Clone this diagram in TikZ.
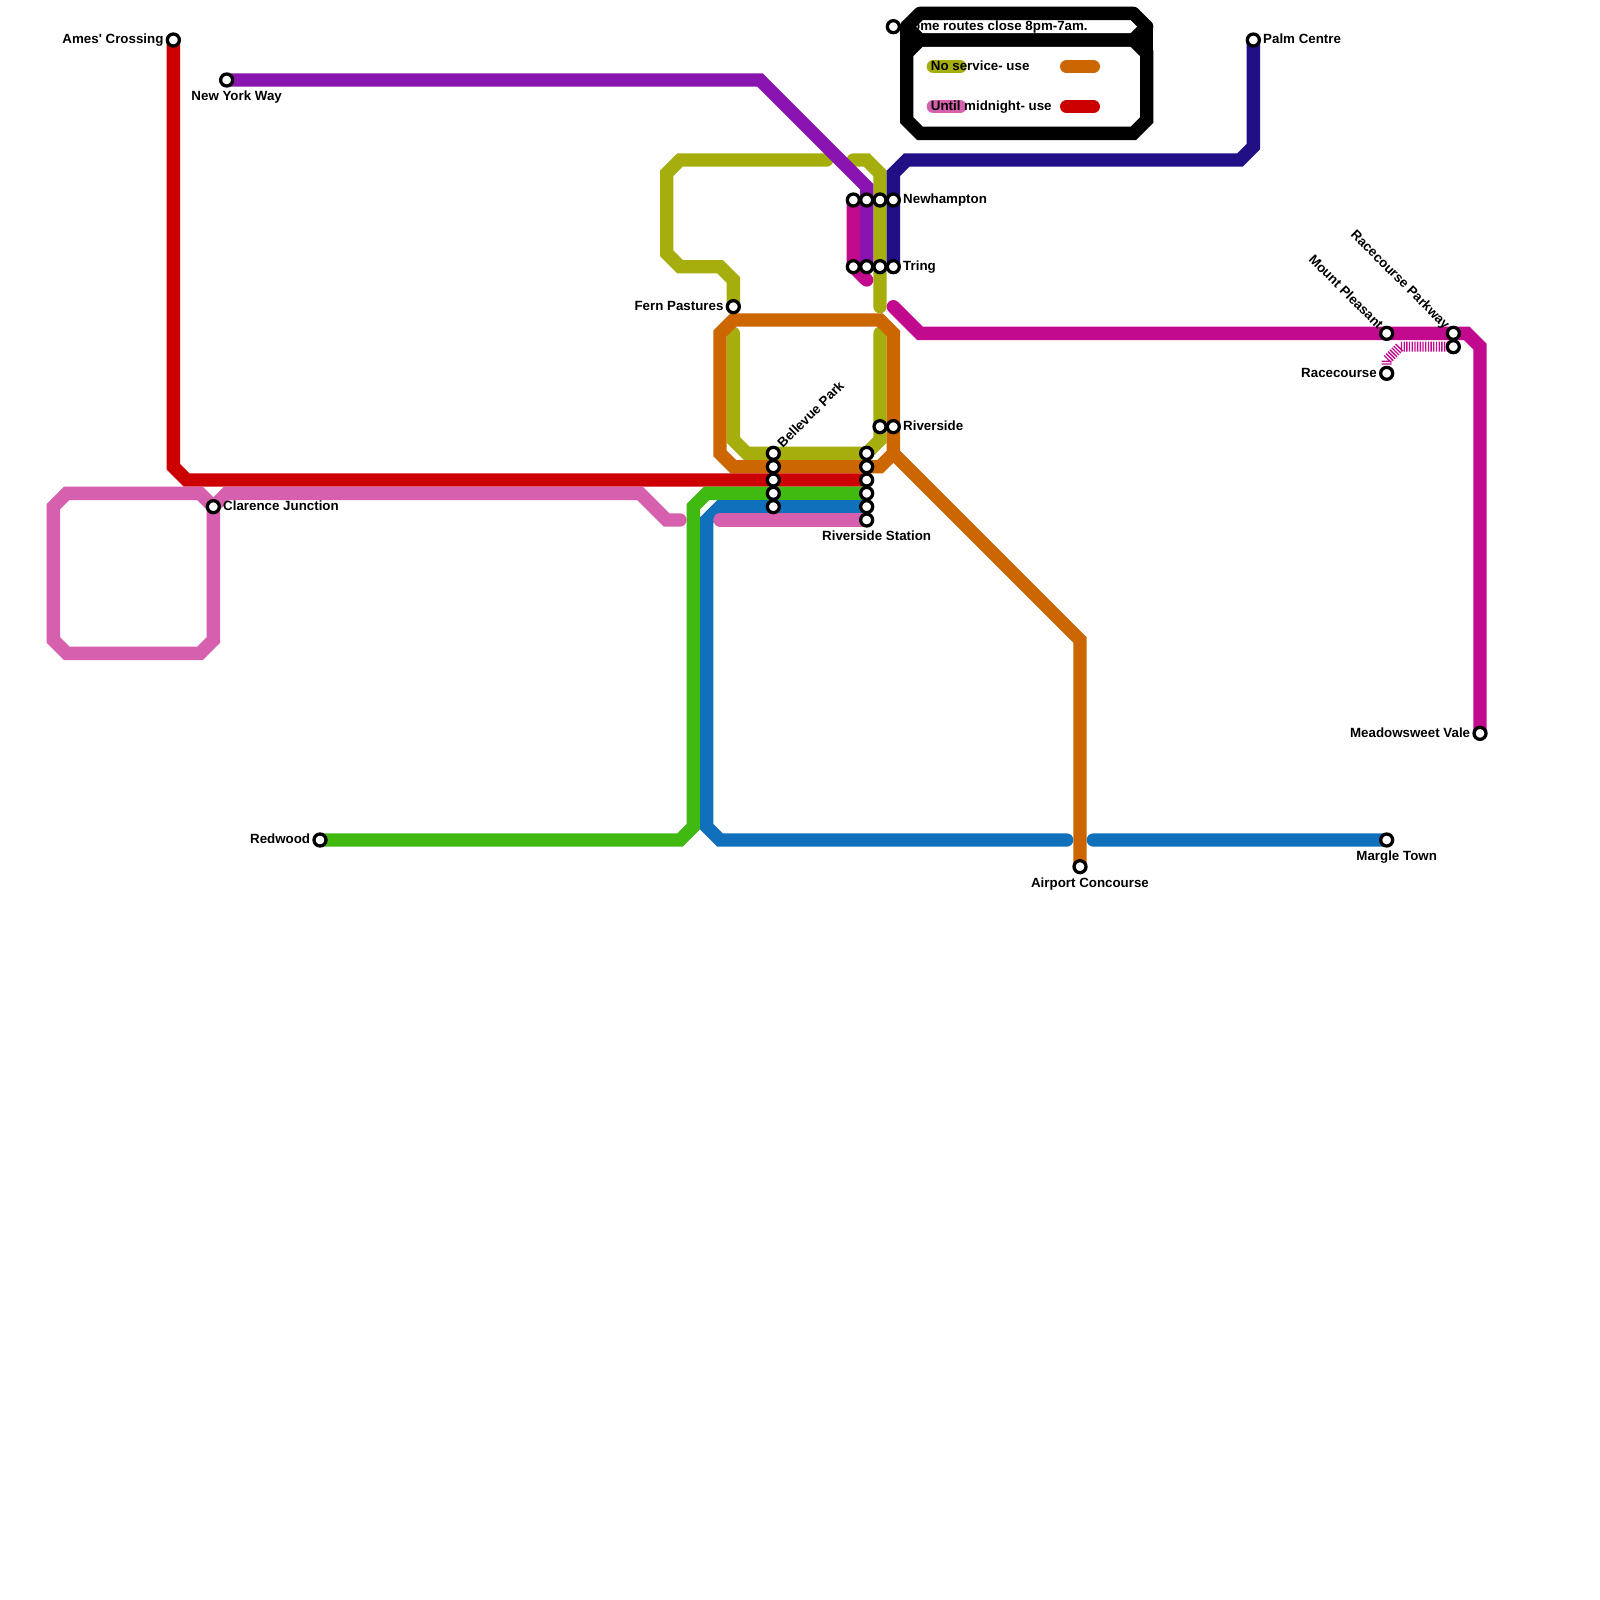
\documentclass[tikz,border=0pt]{standalone}
\usepackage{fontspec}
\setmainfont[Ligatures=NoCommon]{Liberation Sans}
\usetikzlibrary{positioning, calc, backgrounds}
\definecolor{redline}{HTML}{CC0000}
\definecolor{orangeline}{HTML}{CC6600}
\definecolor{oliveline}{HTML}{A6AE0D}
\definecolor{pinkline}{HTML}{D65FAE}
\definecolor{magentaline}{HTML}{C20A8E}
\definecolor{purpleline}{HTML}{8A14B0}
\definecolor{navyline}{HTML}{210F85}
\definecolor{greenline}{HTML}{40BA10}
\definecolor{blueline}{HTML}{1070BB}
\tikzset{
  route/.style={line width=0.4cm, line cap=round, line join=miter, draw=#1},
  station/.style={circle, draw=black, fill=white, line width=2.8pt, minimum size=0.36cm, inner sep=0pt},
  maplabel/.style={inner sep=0pt, text height=0.72em, text depth=0.05em, text=black}
}
\begin{document}
\begin{tikzpicture}[x=0.4cm, y=-0.4cm, font=\fontsize{11.38}{13}\selectfont\bfseries]
  \useasboundingbox (0,0) rectangle (120,120);

  % Single stations
  \node (Ames)    [station] at (13,3) {};
  \node (NewYork) [station] at (17,6) {};
  \node (Clarence)[station] at (16,38) {};
  \node (Redwood) [station] at (24,63) {};
  \node (Fern)    [station] at (55,23) {};
  \node (Notice)  [station] at (67,2) {};
  \node (Palm)    [station] at (94,3) {};
  \node (Airport) [station] at (81,65) {};
  \node (Margle)  [station] at (104,63) {};
  \node (Mount)   [station] at (104,25) {};
  \node (Race)    [station] at (104,28) {};
  \node (ParkA)   [station] at (109,25) {};
  \node (ParkB)   [station] at (109,26) {};
  \node (Meadow)  [station] at (111,55) {};
  \node (RiverA)  [station] at (66,32) {};
  \node (RiverB)  [station] at (67,32) {};

  % Interchanges: one row or column per stop
  \foreach \n/\x in {A/64,B/65,C/66,D/67} {
    \node (Newh\n) [station] at (\x,15) {};
    \node (Tring\n) [station] at (\x,20) {};
  }
  \foreach \n/\y in {A/34,B/35,C/36,D/37,E/38} {
    \node (Belle\n) [station] at (58,\y) {};
  }
  \foreach \n/\y in {A/34,B/35,C/36,D/37,E/38,F/39} {
    \node (Stat\n) [station] at (65,\y) {};
  }

  % Labels on the left / right
  \node (AmesL)     [maplabel, left=0.06cm of Ames] {Ames\textquotesingle{} Crossing};
  \node (FernL)     [maplabel, left=0.06cm of Fern] {Fern Pastures};
  \node (RedwoodL)  [maplabel, left=0.06cm of Redwood] {Redwood};
  \node (RaceL)     [maplabel, left=0.06cm of Race] {Racecourse};
  \node (MeadowL)   [maplabel, left=0.06cm of Meadow] {Meadowsweet Vale};
  \node (ClarenceL) [maplabel, right=0.06cm of Clarence] {Clarence Junction};
  \node (NewhL)     [maplabel, right=0.06cm of NewhD] {Newhampton};
  \node (TringL)    [maplabel, right=0.06cm of TringD] {Tring};
  \node (RiverL)    [maplabel, right=0.06cm of RiverB] {Riverside};
  \node (PalmL)     [maplabel, right=0.06cm of Palm] {Palm Centre};
  \node (NoticeL)   [maplabel, right=0.06cm of Notice] {Some routes close 8pm-7am.};

  % Labels underneath
  \node (NewYorkL)  [maplabel, below=0.125cm of NewYork, xshift=0.3cm] {New York Way};
  \node (StatL)     [maplabel, below=0.125cm of StatF, xshift=0.3cm] {Riverside Station};
  \node (AirportL)  [maplabel, below=0.125cm of Airport, xshift=0.3cm] {Airport Concourse};
  \node (MargleL)   [maplabel, below=0.125cm of Margle, xshift=0.3cm] {Margle Town};

  % Slanted labels
  \node (BelleL) [maplabel, rotate=45, anchor=west] at ($(BelleA)+(0.5,-0.55)$) {Bellevue Park};
  \node (MountL) [maplabel, rotate=-45, anchor=east] at ($(Mount)+(-0.45,-0.45)$) {Mount Pleasant};
  \node (ParkL)  [maplabel, rotate=-45, anchor=east] at ($(ParkA)+(-0.45,-0.45)$) {Racecourse Parkway};

  % Legend
  \node (NoSvc) [maplabel, anchor=west] at (69.8,5) {No service- use};
  \node (Until) [maplabel, anchor=west] at (69.8,8) {Until midnight- use};
  \coordinate (OliveA) at (70,5);
  \coordinate (OliveB) at (72,5);
  \coordinate (OrangeA) at (80,5);
  \coordinate (OrangeB) at (82,5);
  \coordinate (PinkA) at (70,8);
  \coordinate (PinkB) at (72,8);
  \coordinate (RedA) at (80,8);
  \coordinate (RedB) at (82,8);

  % Free line ends
  \coordinate (OliveEnd) at (62,12);
  \coordinate (OliveTop) at (64,12);
  \coordinate (OliveLow) at (66,23);
  \coordinate (OliveIn) at (66,25);
  \coordinate (OliveInL) at (55,25);
  \coordinate (MagEnd) at (65,21);
  \coordinate (MagStart) at (67,23);
  \coordinate (BlueEnd) at (80,63);
  \coordinate (BlueStart) at (82,63);
  \coordinate (PinkEnd) at (51,39);
  \coordinate (PinkStart) at (54,39);
  \coordinate (HatchEnd) at (104,27.4);
  \coordinate (OrangeFork) at (67,34);

  \begin{pgfonlayer}{background}
    \fill[white] (0,0) rectangle (120,120);

    % --- Notice board ---
    \draw[route=black, line join=round] (69,1) -- (85,1) -- (86,2) -- (85,3) -- (69,3) -- (68,2) -- cycle;
    \draw[route=black] (69,3) -- (85,3) -- (86,4) -- (86,9) -- (85,10) -- (69,10) -- (68,9) -- (68,4) -- cycle;
    \draw[route=black] (68,2) -- (68,4);
    \draw[route=black] (86,2) -- (86,4);
    \draw[route=oliveline] (OliveA) -- (OliveB);
    \draw[route=orangeline] (OrangeA) -- (OrangeB);
    \draw[route=pinkline] (PinkA) -- (PinkB);
    \draw[route=redline] (RedA) -- (RedB);

    % --- Olive ---
    \draw[route=oliveline] (Fern.center) -- (55,21) -- (54,20) -- (51,20) -- (50,19) -- (50,13) -- (51,12) -- (OliveEnd);
    \draw[route=oliveline] (OliveTop) -- (65,12) -- (66,13) -- (OliveLow);
    \draw[route=oliveline] (OliveIn) -- (66,33) -- (65,34) -- (56,34) -- (55,33) -- (OliveInL);

    % --- Orange ---
    \draw[route=orangeline] (OrangeFork) -- (66,35) -- (55,35) -- (54,34) -- (54,25) -- (55,24) -- (66,24) -- (67,25) -- (OrangeFork);
    \draw[route=orangeline] (OrangeFork) -- (81,48) -- (Airport.center);

    % --- Red, green, blue, pink ---
    \draw[route=redline] (Ames.center) -- (13,35) -- (14,36) -- (StatC.center);
    \draw[route=greenline] (Redwood.center) -- (51,63) -- (52,62) -- (52,38) -- (53,37) -- (StatD.center);
    \draw[route=blueline] (StatE.center) -- (54,38) -- (53,39) -- (53,62) -- (54,63) -- (BlueEnd) (BlueStart) -- (Margle.center);
    \draw[route=pinkline] (PinkStart) -- (StatF.center);
    \draw[route=pinkline] (PinkEnd) -- (50,39) -- (48,37) -- (17,37) -- (Clarence.center);
    \draw[route=pinkline] (Clarence.center) -- (16,48) -- (15,49) -- (5,49) -- (4,48) -- (4,38) -- (5,37) -- (15,37) -- (Clarence.center);

    % --- Purple, magenta, navy ---
    \draw[route=purpleline] (NewYork.center) -- (57,6) -- (65,14) -- (TringB.center);
    \draw[route=magentaline] (NewhA.center) -- (TringA.center) -- (MagEnd);
    \draw[route=magentaline] (MagStart) -- (69,25) -- (110,25) -- (111,26) -- (Meadow.center);
    \draw[route=navyline] (Palm.center) -- (94,11) -- (93,12) -- (68,12) -- (67,13) -- (TringD.center);

    % --- Hatched link ---
    \draw[magentaline, line width=0.3cm, dash pattern=on 1.15pt off 1.15pt] (ParkB.center) -- (105,26) -- (104,27) -- (HatchEnd);
  \end{pgfonlayer}
\end{tikzpicture}
\end{document}
